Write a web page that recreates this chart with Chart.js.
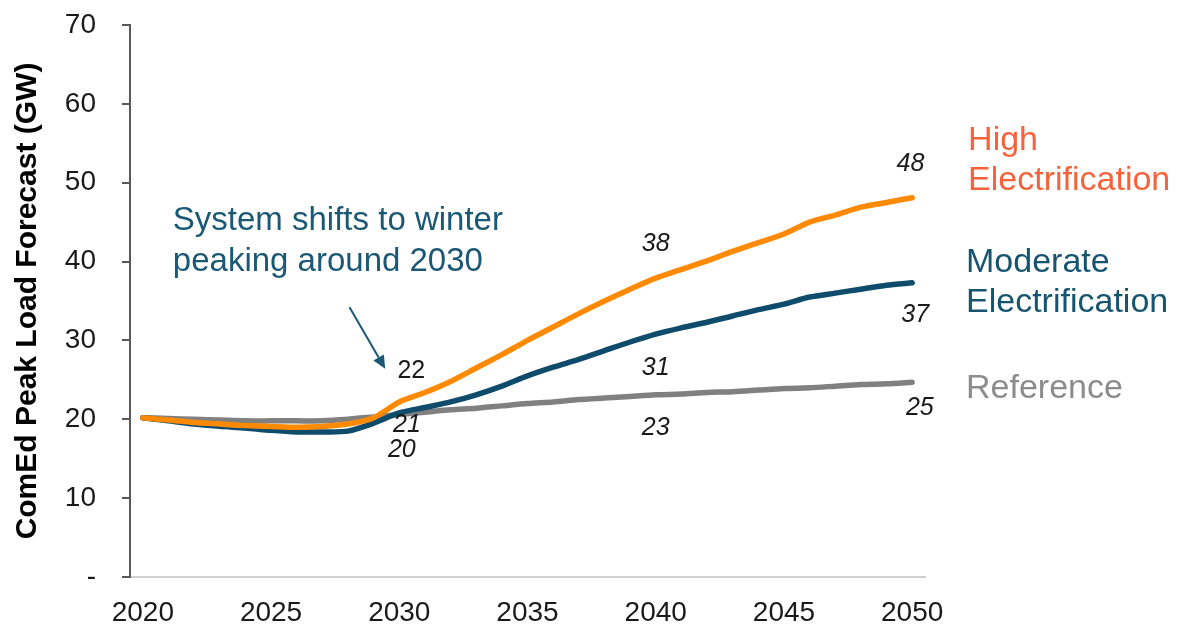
<!DOCTYPE html>
<html>
<head>
<meta charset="utf-8">
<script src="https://cdn.jsdelivr.net/npm/chart.js@4.4.1/dist/chart.umd.min.js"></script>
<style>
  html, body { margin: 0; padding: 0; background: #ffffff; }
  #wrap { width: 1180px; height: 629px; position: relative; }
</style>
</head>
<body>
<div id="wrap"><canvas id="c" width="1180" height="629"></canvas></div>
<script>
// ---- data ----
const years = [2020,2021,2022,2023,2024,2025,2026,2027,2028,2029,2030,
               2031,2032,2033,2034,2035,2036,2037,2038,2039,2040,
               2041,2042,2043,2044,2045,2046,2047,2048,2049,2050];
const highElectrification = [20.2,19.9,19.6,19.4,19.2,19.1,19.0,19.1,19.4,20.2,22.2,
                             23.4,24.8,26.5,28.2,30.0,31.7,33.4,35.0,36.5,37.9,
                             39.0,40.1,41.3,42.4,43.5,45.0,45.9,46.9,47.5,48.1];
const moderateElectrification = [20.2,19.8,19.4,19.1,18.9,18.6,18.4,18.4,18.5,19.5,20.8,
                                 21.5,22.2,23.1,24.2,25.5,26.6,27.6,28.7,29.8,30.8,
                                 31.6,32.3,33.1,33.9,34.6,35.5,36.0,36.5,37.0,37.3];
const reference = [20.2,20.1,20.0,19.9,19.8,19.8,19.8,19.8,20.0,20.3,20.6,
                   20.9,21.2,21.4,21.7,22.0,22.2,22.5,22.7,22.9,23.1,
                   23.2,23.4,23.5,23.7,23.9,24.0,24.2,24.4,24.5,24.7];
const xTickYears = [2020,2025,2030,2035,2040,2045,2050];
const yTicks = [0,10,20,30,40,50,60,70];
const seriesNames = ["High Electrification","Moderate Electrification","Reference"];
const valueLabels = ["48","37","25","38","31","23","22","21","20"];
const yAxisTitle = "ComEd Peak Load Forecast (GW)";
const noteLines = ["System shifts to winter","peaking around 2030"];

// ---- styles / layout ----
const COL_HIGH = "#FF8A00", COL_MOD = "#0F4C6B", COL_REF = "#808080";
const TXT_HIGH = "#F8623A", TXT_MOD = "#17546F", TXT_REF = "#8C8C8C", TXT_NOTE = "#1A5874";
const FONT = "'Liberation Sans', Arial, sans-serif";

// annotation anchors in (year, value) units
const valueLabelPos = [
  [2049.93,52.4],[2050.12,33.2],[2050.3,21.4],
  [2040.0,42.2],[2040.0,26.5],[2040.0,18.9],
  [2030.47,26.1],[2030.3,19.3],[2030.1,16.1]
];
const valueLabelItalic = [true,true,true,true,true,true,false,true,true];
const legendPos = [
  {lines:["High","Electrification"], color:TXT_HIGH, x:2052.18, y:[54.1,49.1]},
  {lines:["Moderate","Electrification"], color:TXT_MOD, x:2052.1, y:[38.7,33.6]},
  {lines:["Reference"], color:TXT_REF, x:2052.1, y:[22.7]}
];
const notePos = {x:2021.17, y:[44.0,38.8]};
const arrowPos = {from:[2028.06,34.2], to:[2029.45,26.4]};

const annotPlugin = {
  id: 'annot',
  afterDatasetsDraw(chart) {
    const ctx = chart.ctx, xs = chart.scales.x, ys = chart.scales.y;
    const px = yr => xs.getPixelForValue(yr - years[0]);
    const py = v => ys.getPixelForValue(v);
    ctx.save();
    // value labels
    ctx.textAlign = 'center';
    ctx.textBaseline = 'middle';
    ctx.fillStyle = '#1a1a1a';
    valueLabels.forEach((t,i) => {
      ctx.font = (valueLabelItalic[i] ? 'italic ' : '') + '25px ' + FONT;
      ctx.fillText(t, px(valueLabelPos[i][0]), py(valueLabelPos[i][1]));
    });
    // legend texts
    ctx.textAlign = 'left';
    ctx.textBaseline = 'alphabetic';
    ctx.font = '34px ' + FONT;
    legendPos.forEach(l => {
      ctx.fillStyle = l.color;
      l.lines.forEach((t,j) => ctx.fillText(t, px(l.x), py(l.y[j])));
    });
    // note
    ctx.font = '33px ' + FONT;
    ctx.fillStyle = TXT_NOTE;
    noteLines.forEach((t,j) => ctx.fillText(t, px(notePos.x), py(notePos.y[j])));
    // arrow
    const x1 = px(arrowPos.from[0]), y1 = py(arrowPos.from[1]);
    const x2 = px(arrowPos.to[0]), y2 = py(arrowPos.to[1]);
    const ang = Math.atan2(y2 - y1, x2 - x1);
    const head = 13, hw = 6;
    const bx = x2 - head * Math.cos(ang), by = y2 - head * Math.sin(ang);
    ctx.strokeStyle = TXT_NOTE;
    ctx.lineWidth = 2;
    ctx.beginPath(); ctx.moveTo(x1, y1); ctx.lineTo(bx, by); ctx.stroke();
    ctx.fillStyle = TXT_NOTE;
    ctx.beginPath();
    ctx.moveTo(x2, y2);
    ctx.lineTo(bx + hw * Math.sin(ang), by - hw * Math.cos(ang));
    ctx.lineTo(bx - hw * Math.sin(ang), by + hw * Math.cos(ang));
    ctx.closePath(); ctx.fill();
    ctx.restore();
  }
};

const mk = (label, data, color) => ({
  label, data, borderColor: color, backgroundColor: color,
  borderWidth: 5.5, pointRadius: 0, tension: 0.25,
  borderCapStyle: 'round', borderJoinStyle: 'round', fill: false
});

new Chart(document.getElementById('c'), {
  type: 'line',
  data: {
    labels: years.map(String),
    datasets: [
      mk(seriesNames[0], highElectrification, COL_HIGH),
      mk(seriesNames[1], moderateElectrification, COL_MOD),
      mk(seriesNames[2], reference, COL_REF)
    ]
  },
  options: {
    responsive: false,
    animation: false,
    devicePixelRatio: 1,
    layout: { padding: { left: 0, right: 255, top: 25, bottom: 0 } },
    plugins: { legend: { display: false }, tooltip: { enabled: false } },
    scales: {
      x: {
        type: 'category',
        offset: true,
        afterFit: s => { s.height = 52; s.paddingLeft = 0; s.paddingRight = 0; },
        grid: { display: true, drawOnChartArea: false, drawTicks: false },
        border: { display: true, color: '#D0D0D0', width: 2 },
        ticks: {
          autoSkip: false, maxRotation: 0, minRotation: 0, padding: 19,
          color: '#1a1a1a', font: { family: FONT, size: 28 },
          callback: function(v, i) {
            const yr = years[i];
            return xTickYears.includes(yr) ? String(yr) : null;
          }
        }
      },
      y: {
        min: yTicks[0], max: yTicks[yTicks.length - 1],
        afterFit: s => { s.width = 130; s.paddingTop = 0; s.paddingBottom = 0; },
        afterBuildTicks: s => { s.ticks = yTicks.map(v => ({ value: v })); },
        grid: { display: true, drawOnChartArea: false, drawTicks: true, tickLength: 8, color: '#595959', lineWidth: 2 },
        border: { display: true, color: '#595959', width: 2 },
        ticks: {
          padding: 26, color: '#1a1a1a', font: { family: FONT, size: 28 },
          callback: v => v === 0 ? '-' : String(v)
        },
        title: {
          display: true, text: yAxisTitle, color: '#000000',
          font: { family: FONT, size: 30, weight: 'bold' },
          padding: { top: 10, bottom: 0 }
        }
      }
    }
  },
  plugins: [annotPlugin]
});
</script>
</body>
</html>
